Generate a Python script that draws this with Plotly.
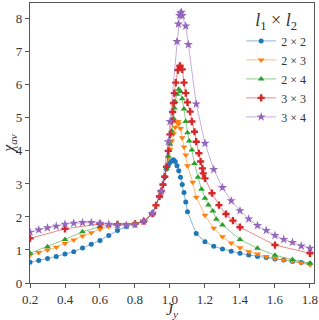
import plotly.graph_objects as go

# ---- data ----
x_22 = [0.2,0.25,0.3,0.35,0.4,0.45,0.5,0.55,0.6,0.65,0.7,0.75,0.8,0.85,0.9,0.95,0.97,0.98,
        0.99,1.0,1.01,1.02,1.03,1.04,1.05,1.06,1.07,1.08,1.09,1.1,1.15,1.2,1.25,1.3,1.35,1.4,
        1.45,1.5,1.55,1.6,1.65,1.7,1.75,1.8]
y_22 = [0.63,0.68,0.74,0.80,0.88,0.95,1.06,1.17,1.29,1.44,1.59,1.71,1.77,1.87,2.10,2.78,3.22,3.45,
        3.55,3.65,3.70,3.73,3.68,3.55,3.40,3.20,2.98,2.74,2.45,2.16,1.50,1.25,1.11,1.03,0.96,0.90,
        0.85,0.80,0.77,0.73,0.70,0.65,0.62,0.58]

x_23 = [0.2,0.25,0.3,0.35,0.4,0.45,0.5,0.55,0.6,0.65,0.7,0.75,0.8,0.85,0.9,0.92,0.94,0.96,0.98,
        0.99,1.0,1.01,1.02,1.03,1.04,1.045,1.05,1.06,1.07,1.08,1.09,1.1,1.13,1.15,1.2,1.25,1.3,
        1.35,1.4,1.45,1.5,1.55,1.6,1.65,1.7,1.75,1.8]
y_23 = [0.85,0.92,1.00,1.08,1.20,1.30,1.42,1.52,1.63,1.71,1.75,1.78,1.81,1.87,2.10,2.35,2.62,2.98,3.48,
        3.80,4.05,4.30,4.52,4.72,4.86,4.89,4.82,4.68,4.40,4.12,3.88,3.55,3.05,2.60,2.05,1.66,1.40,
        1.21,1.07,0.95,0.88,0.80,0.75,0.70,0.66,0.61,0.55]

x_24 = [0.2,0.3,0.4,0.5,0.6,0.7,0.8,0.85,0.9,0.94,0.96,0.98,0.99,1.0,1.01,1.02,1.025,1.03,1.04,
        1.05,1.06,1.07,1.08,1.09,1.1,1.11,1.125,1.14,1.16,1.18,1.2,1.22,1.245,1.265,1.3,1.4,1.5,
        1.6,1.7,1.8]
y_24 = [0.90,1.10,1.32,1.55,1.71,1.79,1.80,1.87,2.10,2.62,2.98,3.48,3.85,4.20,4.60,4.98,5.30,5.50,5.72,
        5.87,5.80,5.58,5.27,4.89,4.55,4.30,4.03,3.62,3.20,2.84,2.57,2.36,2.18,1.93,1.76,1.32,1.05,
        0.84,0.71,0.60]

x_33 = [0.2,0.4,0.6,0.7,0.8,0.85,0.9,0.92,0.94,0.95,0.96,0.97,0.98,0.99,1.0,1.01,1.015,1.02,1.025,
        1.033,1.045,1.057,1.07,1.08,1.09,1.1,1.115,1.125,1.14,1.15,1.165,1.175,1.185,1.19,1.2,
        1.24,1.28,1.32,1.36,1.4,1.6,1.8]
y_33 = [1.35,1.64,1.79,1.78,1.79,1.87,2.10,2.35,2.62,2.78,2.98,3.22,3.52,4.00,4.50,4.90,5.18,5.45,5.75,
        6.07,6.45,6.58,6.47,6.07,5.75,5.47,5.19,4.89,4.58,4.28,3.93,3.68,3.47,3.32,3.17,
        2.72,2.36,2.09,1.89,1.69,1.15,0.90]

x_34 = [0.2,0.25,0.3,0.35,0.4,0.45,0.5,0.55,0.6,0.65,0.7,0.75,0.8,0.85,0.9,0.95,0.99,1.0,1.04,
        1.048,1.055,1.06,1.065,1.07,1.09,1.105,1.15,1.2,1.25,1.3,1.35,1.4,1.45,1.5,1.55,1.6,
        1.65,1.7,1.75,1.8]
y_34 = [1.54,1.61,1.67,1.72,1.78,1.81,1.83,1.83,1.81,1.78,1.76,1.75,1.77,1.87,2.11,2.78,4.28,4.89,7.31,
        7.84,8.10,8.17,8.20,8.10,7.78,7.22,5.42,4.23,3.44,2.89,2.49,2.19,1.94,1.74,1.59,1.44,
        1.32,1.23,1.12,1.05]

labels = ["2 × 2", "2 × 3", "2 × 4", "3 × 3", "3 × 4"]
x_ticks = [0.2, 0.4, 0.6, 0.8, 1.0, 1.2, 1.4, 1.6, 1.8]
x_tick_text = ["0.2", "0.4", "0.6", "0.8", "1.0", "1.2", "1.4", "1.6", "1.8"]
y_ticks = [0, 1, 2, 3, 4, 5, 6, 7, 8]

# ---- styling ----
colors = ["#1f77b4", "#ff7f0e", "#2ca02c", "#d62728", "#9467bd"]
line_colors = ["rgba(31,119,180,0.6)", "rgba(255,127,14,0.6)", "rgba(44,160,44,0.6)",
               "rgba(214,39,40,0.6)", "rgba(148,103,189,0.6)"]
symbols = ["circle", "triangle-down", "triangle-up", "cross", "star"]
msizes = [5, 6, 6, 6, 7]

series = [(x_22, y_22), (x_23, y_23), (x_24, y_24), (x_33, y_33), (x_34, y_34)]

fig = go.Figure()
for (xs, ys), lab, c, lc, s, ms in zip(series, labels, colors, line_colors, symbols, msizes):
    fig.add_trace(go.Scatter(
        x=xs, y=ys, mode="lines+markers", name=lab,
        line=dict(color=lc, width=0.9),
        marker=dict(color=c, symbol=s, size=ms, line=dict(width=0)),
    ))

font_family = "Liberation Serif, DejaVu Serif, serif"
axis_common = dict(
    showgrid=False, zeroline=False, showline=True, linecolor="#555555", linewidth=1.2,
    mirror=True, ticks="outside", ticklen=4, tickcolor="#555555", tickwidth=1,
    tickfont=dict(family=font_family, size=13, color="#333333"), automargin=False,
)

fig.update_layout(
    width=319, height=320,
    margin=dict(l=30, r=5, t=3, b=37),
    paper_bgcolor="white", plot_bgcolor="white",
    font=dict(family=font_family, color="#333333"),
    xaxis=dict(range=[0.2, 1.823], tickvals=x_ticks, ticktext=x_tick_text,
               title=dict(text="<i>J<sub>y</sub></i>", font=dict(size=16), standoff=3),
               **axis_common),
    yaxis=dict(range=[0, 8.48], tickvals=y_ticks,
               title=dict(text="<i>χ<sub>av</sub></i>", font=dict(size=16), standoff=0),
               **axis_common),
    legend=dict(
        x=0.99, y=1.0, xanchor="right", yanchor="top",
        bgcolor="rgba(255,255,255,0)", borderwidth=0,
        font=dict(size=12, family=font_family, color="#333333"),
        title=dict(text="<i>l</i><sub>1</sub> × <i>l</i><sub>2</sub>",
                   font=dict(size=18, family=font_family), side="top center"),
        tracegroupgap=0, itemwidth=30,
    ),
    showlegend=True,
)

fig.write_html("out.html", config={"displayModeBar": False},
               post_script="document.body.style.margin='0';document.body.style.overflow='hidden';")
